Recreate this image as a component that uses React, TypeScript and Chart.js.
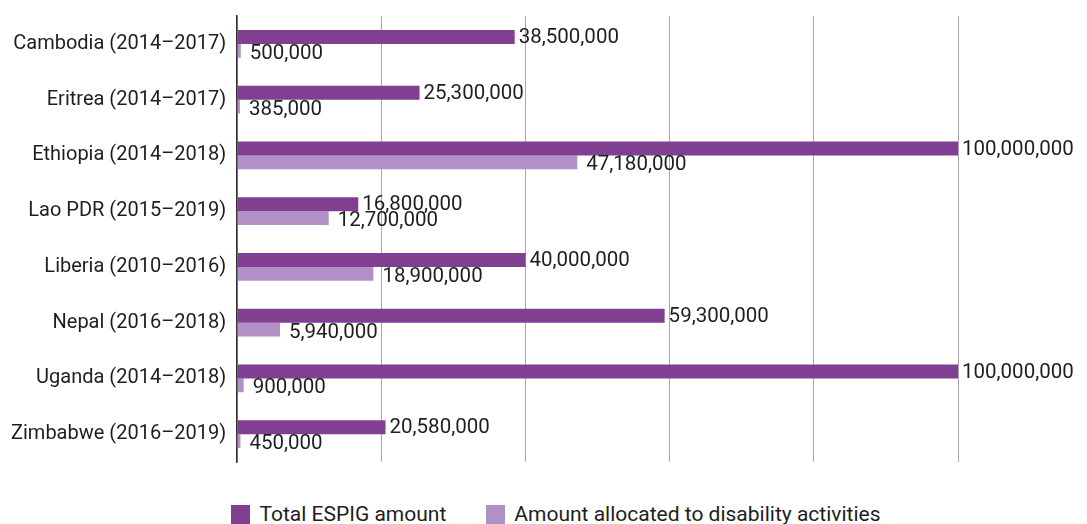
import React, { useEffect, useRef } from "react";
import { Chart, registerables } from "chart.js";

Chart.register(...registerables);

const categories = [
  "Cambodia (2014–2017)",
  "Eritrea (2014–2017)",
  "Ethiopia (2014–2018)",
  "Lao PDR (2015–2019)",
  "Liberia (2010–2016)",
  "Nepal (2016–2018)",
  "Uganda (2014–2018)",
  "Zimbabwe (2016–2019)",
];
const totalEspig = [38500000, 25300000, 100000000, 16800000, 40000000, 59300000, 100000000, 20580000];
const disability = [500000, 385000, 47180000, 12700000, 18900000, 5940000, 900000, 450000];
const seriesLabels = ["Total ESPIG amount", "Amount allocated to disability activities"];
const seriesColors = ["#813f92", "#b190c6"];

const FONT = "Roboto, 'DejaVu Sans', sans-serif";

const valueLabels = {
  id: "valueLabels",
  afterDatasetsDraw(chart: any) {
    const ctx = chart.ctx;
    ctx.save();
    ctx.font = `20.5px ${FONT}`;
    ctx.fillStyle = "#1e1e1e";
    ctx.textBaseline = "middle";
    ctx.textAlign = "left";
    chart.data.datasets.forEach((ds: any, di: number) => {
      const meta = chart.getDatasetMeta(di);
      meta.data.forEach((bar: any, i: number) => {
        const v = ds.data[i];
        const dx = di === 0 ? 4 : 9;
        const dy = di === 0 ? 1 : 3;
        ctx.fillText(v.toLocaleString("en-US"), bar.x + dx, bar.y + dy);
      });
    });
    ctx.restore();
  },
};

export default function App() {
  const ref = useRef<HTMLCanvasElement>(null);
  useEffect(() => {
    document.body.style.margin = "0";
    const chart = new Chart(ref.current!, {
      type: "bar",
      data: {
        labels: categories,
        datasets: [
          { label: seriesLabels[0], data: totalEspig, backgroundColor: seriesColors[0] },
          { label: seriesLabels[1], data: disability, backgroundColor: seriesColors[1] },
        ],
      },
      options: {
        indexAxis: "y",
        animation: false,
        responsive: false,
        maintainAspectRatio: false,
        layout: { padding: { top: 8, right: 129, bottom: 0, left: 0 } },
        datasets: { bar: { categoryPercentage: 0.5, barPercentage: 1 } },
        plugins: { legend: { display: false }, tooltip: { enabled: false } },
        scales: {
          x: {
            min: 0,
            max: 100000000,
            ticks: { display: false, stepSize: 20000000 },
            grid: { color: "#a8a8a8", lineWidth: 1, drawTicks: false },
            border: { display: false },
          },
          y: {
            grid: { display: false, drawTicks: false },
            border: { display: true, color: "#333333", width: 1.5 },
            ticks: { color: "#1e1e1e", font: { family: FONT, size: 20 }, padding: 11 },
          },
        },
      },
      plugins: [valueLabels],
    });
    return () => chart.destroy();
  }, []);
  return (
    <div style={{ width: 1087, height: 524, position: "relative", overflow: "hidden", background: "#fff" }}>
      <canvas ref={ref} width={1087} height={492} style={{ display: "block", position: "absolute", top: -7, left: 0 }} />
      <div
        style={{
          position: "absolute",
          top: 503,
          left: 0,
          width: 1087,
          display: "flex",
          justifyContent: "center",
          paddingLeft: 25,
          boxSizing: "border-box",
          fontFamily: FONT,
          fontSize: 21,
          color: "#1e1e1e",
          lineHeight: "22px",
        }}
      >
        {seriesLabels.map((l, i) => (
          <div key={l} style={{ display: "flex", alignItems: "center", marginRight: i === 0 ? 40 : 0 }}>
            <span style={{ width: 19, height: 19, background: seriesColors[i], marginRight: 9, display: "inline-block" }} />
            <span>{l}</span>
          </div>
        ))}
      </div>
    </div>
  );
}
